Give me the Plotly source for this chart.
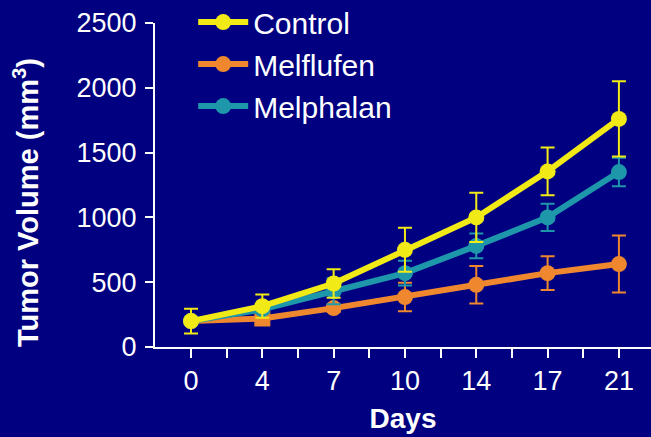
import plotly.graph_objects as go

# Dados (volume tumoral, mm3)
dias = [0, 4, 7, 10, 14, 17, 21]
controle = [200, 315, 490, 750, 1000, 1355, 1760]
controle_erro = [95, 90, 110, 170, 190, 185, 290]
melflufen = [200, 220, 300, 385, 480, 570, 640]
melflufen_erro = [30, 25, 30, 110, 145, 130, 220]
melphalan = [200, 290, 430, 570, 780, 1000, 1350]
melphalan_erro = [30, 30, 100, 95, 95, 105, 110]

AMARELO = "#f2ea16"
LARANJA = "#ee872e"
AZUL = "#1e97aa"
FUNDO = "#000080"

pos = list(range(len(dias)))
fig = go.Figure()

series = [
    ("Melflufen", melflufen, melflufen_erro, LARANJA, 2),
    ("Melphalan", melphalan, melphalan_erro, AZUL, 3),
    ("Control", controle, controle_erro, AMARELO, 1),
]
for nome, valores, erros, cor, rank in series:
    simbolos = ["circle"] * len(valores)
    if nome == "Melflufen":
        simbolos[1] = "square"
    fig.add_trace(go.Scatter(
        x=pos, y=valores, name=nome, mode="lines+markers",
        line=dict(color=cor, width=6),
        marker=dict(color=cor, size=16, symbol=simbolos),
        error_y=dict(type="data", array=erros, color=cor, thickness=2, width=7),
        legendrank=rank, legendgroup=nome,
    ))

# marcas a cada meio intervalo, rótulos só nos dias
tick_vals = [i / 2 for i in range(0, 2 * len(dias) - 1)]
tick_text = [str(dias[int(v)]) if v == int(v) else "" for v in tick_vals]

# título do eixo y como anotação (fica um pouco abaixo do centro no original)
fig.add_annotation(
    text="<b>Tumor Volume (mm<sup>3</sup>)</b>", textangle=-90,
    xref="paper", yref="paper", x=-155 / 496 + 26 / 496, y=(347 - 203) / 324,
    xanchor="center", yanchor="middle", showarrow=False,
    font=dict(size=29, color="white"),
)

fig.update_layout(
    width=651, height=437,
    margin=dict(l=155, r=0, t=23, b=90, autoexpand=False),
    plot_bgcolor=FUNDO, paper_bgcolor=FUNDO,
    font=dict(family="Liberation Sans, Arial, sans-serif", size=26, color="white"),
    showlegend=True,
    legend=dict(
        x=0.077, y=1.083, xanchor="left", yanchor="top",
        bgcolor="rgba(0,0,0,0)", font=dict(size=30, color="white"),
        tracegroupgap=0, itemwidth=50,
    ),
    xaxis=dict(
        range=[-0.505, 6.45], tickvals=tick_vals, ticktext=tick_text,
        showgrid=False, zeroline=False, showline=True, linecolor="white", linewidth=2,
        ticks="outside", ticklen=9, tickwidth=2, tickcolor="white",
        tickfont=dict(size=27),
        title=dict(text="<b>Days</b>", font=dict(size=28), standoff=13),
    ),
    yaxis=dict(
        range=[0, 2500], tickvals=[0, 500, 1000, 1500, 2000, 2500],
        showgrid=False, zeroline=False, showline=True, linecolor="white", linewidth=2,
        ticks="outside", ticklen=8, tickwidth=2, tickcolor="white",
        tickfont=dict(size=27), ticklabelstandoff=3,
    ),
)

# tira a margem branca do corpo da página
fig.write_html(
    "out.html",
    config={"displayModeBar": False},
    post_script="document.body.style.margin='0';document.body.style.background='#000080';",
)
